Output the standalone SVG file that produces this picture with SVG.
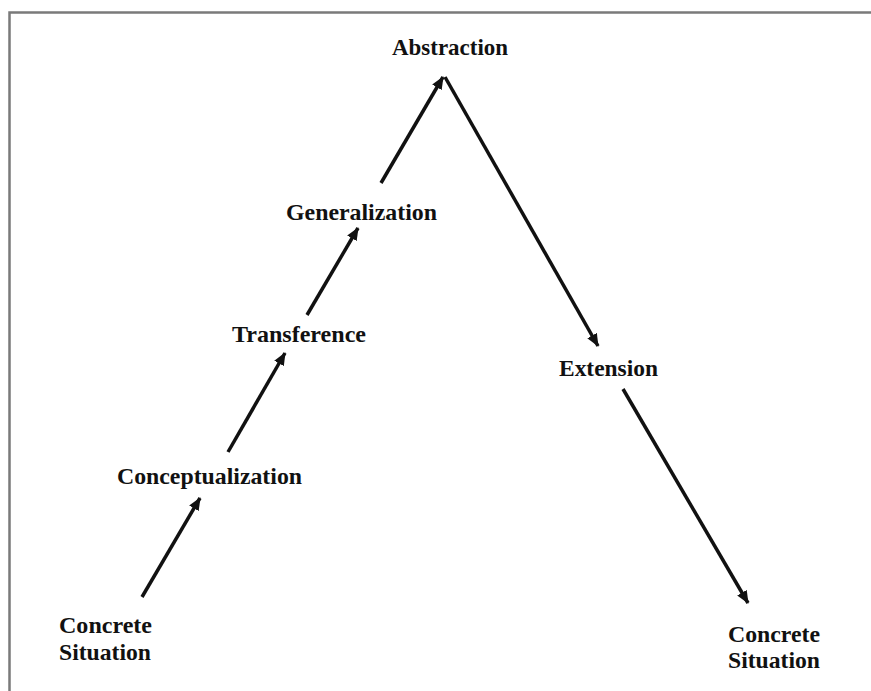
<svg xmlns="http://www.w3.org/2000/svg" width="871" height="691" viewBox="0 0 871 691">
  <style>
    .lbl { font-family: "Liberation Serif", "Times New Roman", serif; font-weight: bold; font-size: 23px; fill: #111; }
    .conn { stroke: #111; stroke-width: 3.5; fill: none; stroke-linecap: butt; }
  </style>
  <defs>
    <marker id="ah" viewBox="0 0 13 11" markerWidth="13" markerHeight="11" refX="12" refY="5.5" orient="auto" markerUnits="userSpaceOnUse">
      <path d="M0,0 L13,5.5 L0,11 Z" fill="#111"/>
    </marker>
  </defs>
  <rect x="0" y="0" width="871" height="691" fill="#ffffff"/>
  <path d="M9.5,700 L9.5,12.5 L880,12.5" fill="none" stroke="#7a7a7a" stroke-width="2.5"/>

  <g id="connectors">
    <line class="conn" x1="142" y1="597" x2="200" y2="498" marker-end="url(#ah)"/>
    <line class="conn" x1="228" y1="452" x2="285" y2="353" marker-end="url(#ah)"/>
    <line class="conn" x1="307" y1="315" x2="358" y2="228" marker-end="url(#ah)"/>
    <line class="conn" x1="381" y1="183" x2="443" y2="77" marker-end="url(#ah)"/>
    <line class="conn" x1="445" y1="77" x2="598" y2="346" marker-end="url(#ah)"/>
    <line class="conn" x1="623" y1="389" x2="748" y2="603" marker-end="url(#ah)"/>
  </g>

  <g id="abstraction"><text class="lbl" x="392" y="55" textLength="116" lengthAdjust="spacingAndGlyphs">Abstraction</text></g>
  <g id="generalization"><text class="lbl" x="286" y="220" textLength="151" lengthAdjust="spacingAndGlyphs">Generalization</text></g>
  <g id="transference"><text class="lbl" x="232" y="342" textLength="134" lengthAdjust="spacingAndGlyphs">Transference</text></g>
  <g id="conceptualization"><text class="lbl" x="117" y="484" textLength="185" lengthAdjust="spacingAndGlyphs">Conceptualization</text></g>
  <g id="concrete-left">
    <text class="lbl" x="59" y="633" textLength="93" lengthAdjust="spacingAndGlyphs">Concrete</text>
    <text class="lbl" x="59" y="660" textLength="92" lengthAdjust="spacingAndGlyphs">Situation</text>
  </g>
  <g id="extension"><text class="lbl" x="559" y="376" textLength="99" lengthAdjust="spacingAndGlyphs">Extension</text></g>
  <g id="concrete-right">
    <text class="lbl" x="728" y="642" textLength="92" lengthAdjust="spacingAndGlyphs">Concrete</text>
    <text class="lbl" x="728" y="668" textLength="92" lengthAdjust="spacingAndGlyphs">Situation</text>
  </g>
</svg>
